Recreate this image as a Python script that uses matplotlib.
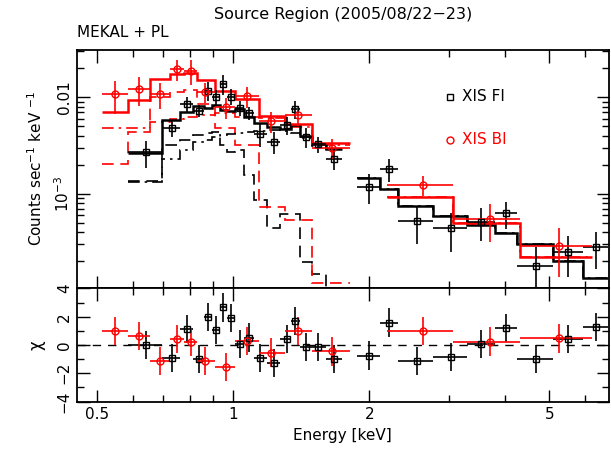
import matplotlib
matplotlib.use('Agg')
import matplotlib.pyplot as plt
import numpy as np
from matplotlib.ticker import FixedLocator, NullFormatter, FixedFormatter

# ---------------- data: XIS FI (black) ----------------
fi_lo = [0.5855, 0.6963, 0.7600, 0.8140, 0.8610, 0.8968, 0.9326, 0.9689, 1.0107, 1.0582,
         1.1136, 1.1878, 1.2711, 1.3409, 1.4073, 1.4950, 1.6046, 1.8743, 2.1102, 2.3160,
         2.7690, 3.2831, 3.7918, 4.2355, 5.1036, 5.9443]
fi_hi = [0.6963, 0.7600, 0.8140, 0.8610, 0.8968, 0.9326, 0.9689, 1.0107, 1.0582, 1.1136,
         1.1878, 1.2711, 1.3409, 1.4073, 1.4950, 1.6046, 1.7364, 2.1102, 2.3160, 2.7690,
         3.2831, 3.7918, 4.2355, 5.1036, 5.9443, 6.7516]
fi_e = [0.641, 0.731, 0.788, 0.841, 0.879, 0.915, 0.950, 0.988, 1.034, 1.083,
        1.145, 1.232, 1.312, 1.369, 1.447, 1.543, 1.670, 1.995, 2.209, 2.544,
        3.030, 3.530, 4.010, 4.672, 5.507, 6.342]
fi_rate = [2.70e-3, 4.85e-3, 8.52e-3, 7.27e-3, 1.17e-2, 1.00e-2, 1.372e-2, 1.014e-2, 7.70e-3, 6.83e-3,
           4.17e-3, 3.47e-3, 5.17e-3, 7.57e-3, 3.86e-3, 3.25e-3, 2.30e-3, 1.19e-3, 1.81e-3, 5.30e-4,
           4.42e-4, 5.17e-4, 6.31e-4, 1.81e-4, 2.53e-4, 2.85e-4]
fi_err = [0.865e-3, 0.955e-3, 1.52e-3, 1.06e-3, 2.56e-3, 1.79e-3, 3.22e-3, 1.89e-3, 1.35e-3, 1.08e-3,
          1.10e-3, 0.905e-3, 1.08e-3, 1.66e-3, 0.905e-3, 0.62e-3, 0.55e-3, 0.40e-3, 0.48e-3, 2.25e-4,
          1.89e-4, 1.93e-4, 1.95e-4, 1.04e-4, 1.14e-4, 1.17e-4]
fi_model = [2.673e-3, 5.837e-3, 6.963e-3, 8.128e-3, 7.659e-3, 8.265e-3, 7.302e-3, 7.131e-3, 7.605e-3, 6.286e-3,
            5.385e-3, 4.930e-3, 4.734e-3, 5.171e-3, 4.008e-3, 3.313e-3, 2.920e-3, 1.474e-3, 1.126e-3, 7.51e-4,
            5.92e-4, 4.78e-4, 3.98e-4, 3.02e-4, 2.04e-4, 1.363e-4]
fi_mekal = [1.363e-3, 3.211e-3, 3.617e-3, 4.075e-3, 4.273e-3, 4.377e-3, 3.211e-3, 2.720e-3, 2.851e-3, 1.572e-3,
            8.67e-4, 4.45e-4, 6.21e-4, 6.21e-4, 1.995e-4, 1.488e-4, 4e-5, 1e-5, 1e-5, 1e-5,
            1e-5, 1e-5, 1e-5, 1e-5, 1e-5, 1e-5]
fi_pl = [1.331e-3, 2.285e-3, 2.851e-3, 3.474e-3, 3.617e-3, 3.886e-3, 4.075e-3, 4.173e-3, 4.304e-3, 4.377e-3,
         4.482e-3, 4.590e-3, 4.482e-3, 4.273e-3, 3.794e-3, 3.158e-3, 2.920e-3, 1.474e-3, 1.126e-3, 7.51e-4,
         5.92e-4, 4.78e-4, 3.98e-4, 3.02e-4, 2.04e-4, 1.363e-4]
fi_chi = [0.0, -0.94, 1.13, -1.01, 2.0, 1.06, 2.66, 1.93, 0.07, 0.52,
          -0.94, -1.25, 0.4, 1.72, -0.16, -0.16, -0.97, -0.75, 1.58, -1.11,
          -0.83, 0.07, 1.18, -1.01, 0.42, 1.29]

# ---------------- data: XIS BI (red) ----------------
bi_lo = [0.5111, 0.5855, 0.6538, 0.7257, 0.7773, 0.8307, 0.9128, 1.0107, 1.1421, 1.2976,
         1.4926, 2.1903, 3.0654, 4.3070]
bi_hi = [0.5855, 0.6538, 0.7257, 0.7773, 0.8307, 0.9128, 1.0107, 1.1421, 1.2976, 1.4926,
         1.8113, 3.0654, 4.3070, 6.2230]
bi_e = [0.548, 0.619, 0.688, 0.751, 0.804, 0.867, 0.962, 1.074, 1.211, 1.392,
        1.653, 2.631, 3.697, 5.26]
bi_rate = [1.074e-2, 1.210e-2, 1.074e-2, 1.949e-2, 1.884e-2, 1.143e-2, 7.88e-3, 1.024e-2, 5.69e-3, 6.56e-3,
           2.99e-3, 1.239e-3, 5.47e-4, 2.90e-4]
bi_err = [4.04e-3, 3.96e-3, 3.13e-3, 4.7e-3, 5.3e-3, 2.75e-3, 1.97e-3, 2.59e-3, 1.40e-3, 1.51e-3,
          0.67e-3, 0.29e-3, 2.3e-4, 1.52e-4]
bi_model = [6.997e-3, 9.38e-3, 1.535e-2, 1.729e-2, 1.784e-2, 1.495e-2, 1.162e-2, 9.49e-3, 6.407e-3, 5.258e-3,
            3.344e-3, 9.38e-4, 4.98e-4, 2.215e-4]
bi_mekal = [2.043e-3, 4.377e-3, 1.007e-2, 1.134e-2, 1.190e-2, 8.424e-3, 4.815e-3, 3.211e-3, 7.39e-4, 5.38e-4,
            1.21e-4, 1e-5, 1e-5, 1e-5]
bi_pl = [4.850e-3, 4.850e-3, 5.553e-3, 5.965e-3, 6.256e-3, 6.56e-3, 6.832e-3, 6.286e-3, 6.065e-3, 4.966e-3,
         3.20e-3, 9.38e-4, 4.98e-4, 2.215e-4]
bi_chi = [0.99, 0.66, -1.13, 0.42, 0.19, -1.13, -1.53, 0.3, -0.54, 1.01,
          -0.45, 1.01, 0.24, 0.47]

xtick_vals = [0.5, 1, 2, 5]
xtick_labels = ['0.5', '1', '2', '5']


def draw_steps(ax, lo, hi, vals, **kw):
    """Histogram-style model, broken where bins are not contiguous."""
    start = 0
    n = len(lo)
    for i in range(n):
        if i == n - 1 or abs(hi[i] - lo[i + 1]) > 1e-6:
            edges = list(lo[start:i + 1]) + [hi[i]]
            ax.stairs(vals[start:i + 1], edges, baseline=None, **kw)
            start = i + 1


def data_points(ax, e, lo, hi, y, yerr, color, marker, ms):
    e = np.asarray(e)
    xerr = [e - np.asarray(lo), np.asarray(hi) - e]
    ax.errorbar(e, y, xerr=xerr, yerr=yerr, fmt='none', ecolor=color,
                elinewidth=1.2, capsize=0, zorder=3)
    ax.plot(e, y, linestyle='none', marker=marker, ms=ms, mfc='none',
            mec=color, mew=1.0, zorder=4)


fig = plt.figure(figsize=(6.11, 4.55), dpi=100)
ax1 = fig.add_axes([0.1255, 0.3677, 0.8712, 0.5224])
ax2 = fig.add_axes([0.1255, 0.1158, 0.8712, 0.2519], sharex=ax1)

RED = '#ff0000'
BLK = '#000000'
dashdot = (0, (7, 3, 1.5, 3))
dashed = (0, (7, 4))
SQ_MS = 4.3
CI_MS = 5.0

# --- top panel ---
data_points(ax1, fi_e, fi_lo, fi_hi, fi_rate, fi_err, BLK, 's', SQ_MS)
data_points(ax1, bi_e, bi_lo, bi_hi, bi_rate, bi_err, RED, 'o', CI_MS)
draw_steps(ax1, fi_lo, fi_hi, fi_model, color=BLK, lw=1.8, zorder=2)
draw_steps(ax1, bi_lo, bi_hi, bi_model, color=RED, lw=1.8, zorder=2)
draw_steps(ax1, fi_lo, fi_hi, fi_mekal, color=BLK, lw=1.2, linestyle=dashed, zorder=1)
draw_steps(ax1, fi_lo, fi_hi, fi_pl, color=BLK, lw=1.2, linestyle=dashdot, zorder=1)
draw_steps(ax1, bi_lo, bi_hi, bi_mekal, color=RED, lw=1.2, linestyle=dashed, zorder=1)
draw_steps(ax1, bi_lo, bi_hi, bi_pl, color=RED, lw=1.2, linestyle=dashdot, zorder=1)

ax1.set_xscale('log')
ax1.set_yscale('log')
ax1.set_xlim(0.45, 6.78)
ax1.set_ylim(1.07e-4, 0.0308)

ax1.yaxis.set_major_locator(FixedLocator([1e-3, 1e-2]))
ax1.yaxis.set_major_formatter(FixedFormatter(['10$^{-3}$', '0.01']))
ax1.yaxis.set_minor_locator(FixedLocator([k * 1e-4 for k in range(2, 10)] +
                                         [k * 1e-3 for k in range(2, 10)] + [2e-2, 3e-2]))
ax1.yaxis.set_minor_formatter(NullFormatter())
ax1.set_ylabel('Counts sec$^{-1}$ keV $^{-1}$', fontsize=11, labelpad=6)

# legend
ax1.plot([0.7013], [0.8023], marker='s', ms=SQ_MS, mfc='none', mec=BLK, mew=1.0,
         transform=ax1.transAxes, linestyle='none')
ax1.text(0.724, 0.8023, 'XIS FI', transform=ax1.transAxes, color=BLK,
         fontsize=11, va='center', ha='left')
ax1.plot([0.7013], [0.6214], marker='o', ms=CI_MS, mfc='none', mec=RED, mew=1.0,
         transform=ax1.transAxes, linestyle='none')
ax1.text(0.724, 0.6214, 'XIS BI', transform=ax1.transAxes, color=RED,
         fontsize=11, va='center', ha='left')

# --- bottom panel ---
ax2.axhline(0, color=BLK, lw=1.0, linestyle=(0, (6, 5)), zorder=1)
fi_e_a = np.asarray(fi_e)
bi_e_a = np.asarray(bi_e)
ax2.errorbar(fi_e, fi_chi, xerr=[fi_e_a - np.asarray(fi_lo), np.asarray(fi_hi) - fi_e_a],
             yerr=1.0, fmt='none', ecolor=BLK, elinewidth=1.2, capsize=0, zorder=3)
ax2.plot(fi_e, fi_chi, linestyle='none', marker='s', ms=SQ_MS, mfc='none', mec=BLK, mew=1.0, zorder=4)
ax2.errorbar(bi_e, bi_chi, xerr=[bi_e_a - np.asarray(bi_lo), np.asarray(bi_hi) - bi_e_a],
             yerr=1.0, fmt='none', ecolor=RED, elinewidth=1.2, capsize=0, zorder=3)
ax2.plot(bi_e, bi_chi, linestyle='none', marker='o', ms=CI_MS, mfc='none', mec=RED, mew=1.0, zorder=4)
ax2.set_ylim(-4.05, 4.05)
ax2.yaxis.set_major_locator(FixedLocator([-4, -2, 0, 2, 4]))
ax2.yaxis.set_major_formatter(FixedFormatter(['\u22124', '\u22122', '0', '2', '4']))
ax2.yaxis.set_minor_locator(FixedLocator([-3, -1, 1, 3]))
ax2.set_ylabel('\u03c7', fontsize=12, labelpad=8)

ax2.xaxis.set_major_locator(FixedLocator(xtick_vals))
ax2.xaxis.set_major_formatter(FixedFormatter(xtick_labels))
ax2.xaxis.set_minor_locator(FixedLocator([0.6, 0.7, 0.8, 0.9, 3, 4, 6]))
ax2.xaxis.set_minor_formatter(NullFormatter())
ax2.set_xlabel('Energy [keV]', fontsize=11)
plt.setp(ax1.get_xticklabels(), visible=False)

for ax in (ax1, ax2):
    ax.tick_params(which='both', direction='in', top=True, right=True, labelsize=11, width=1.0)
    ax.tick_params(which='major', length=9)
    ax.tick_params(which='minor', length=5)
    for sp in ax.spines.values():
        sp.set_linewidth(1.3)
    for lab in ax.get_yticklabels():
        lab.set_rotation(90)
        lab.set_va('center')

fig.text(0.5612, 0.969, 'Source Region (2005/08/22\u221223)', ha='center', va='center', fontsize=11.5)
fig.text(0.1255, 0.9275, 'MEKAL + PL', ha='left', va='center', fontsize=11)

fig.savefig('out.png', dpi=100)
